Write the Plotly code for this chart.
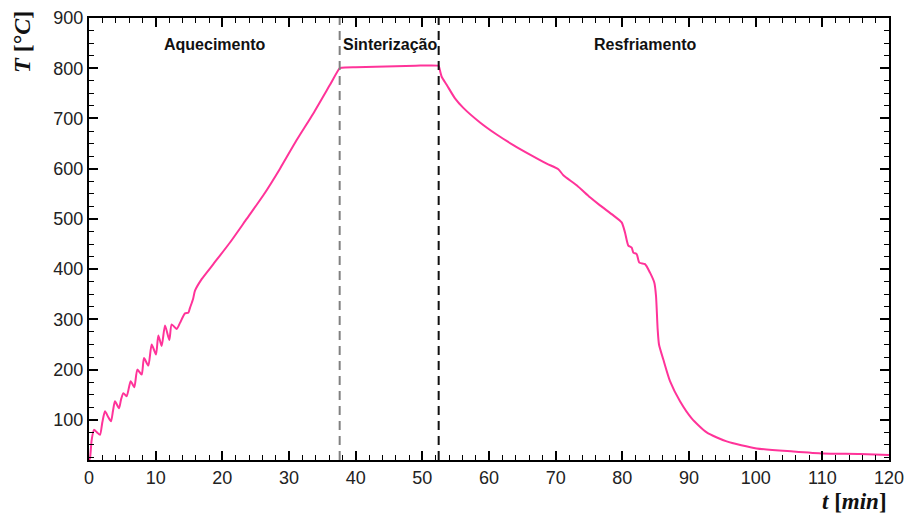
import plotly.graph_objects as go

# ---- data ----
time_min = [0, 0.15, 0.4, 0.75, 1.2, 1.65, 2.0, 2.4, 2.9, 3.3, 3.6, 3.9, 4.5, 4.8, 5.15, 5.65,
            6.25, 6.8, 7.25, 7.9, 8.25, 8.9, 9.4, 10.05, 10.4, 10.9, 11.4, 12.05, 12.4, 13.15,
            13.65, 14.4, 14.9, 15.15, 15.6, 15.9, 16.9, 18.65, 21.15, 23.65, 26.15, 28.65,
            31.15, 33.65, 36.15, 37.6,
            37.9, 40, 43, 46, 49, 52.4,
            52.5, 52.9, 53.65, 54.9, 56.15, 58.65, 61.15, 63.65, 66.15, 68.65, 70.4, 71.15,
            73.15, 75.15, 76.65, 78.65, 79.9, 80.4, 80.9, 81.4, 81.65, 82.15, 82.55, 83.4,
            84.15, 84.8, 85.05, 85.3, 85.5, 86.15, 87.15, 88.65, 90.4, 92.65, 95.65, 100.15,
            105.65, 110.15, 115.65, 120]
temp_c = [20, 24, 60, 80, 75, 70, 95, 117, 105, 97, 118, 137, 123, 140, 153, 147,
          177, 165, 200, 190, 223, 208, 250, 230, 268, 247, 288, 259, 290, 281,
          293, 312, 313, 323, 340, 357, 380, 410, 453, 500, 547, 600,
          657, 710, 767, 800,
          801, 802, 803, 804, 805, 805,
          803, 783, 767, 740, 721, 692, 668, 647, 628, 610, 599, 587,
          567, 543, 527, 507, 493, 473, 447, 443, 433, 430, 413, 410,
          393, 373, 347, 280, 250, 220, 177, 137, 103, 75, 57, 43,
          37, 33, 32, 30]

phase_bounds = [37.6, 52.45]
phase_labels = ["Aquecimento", "Sinterização", "Resfriamento"]
phase_label_t = [18.9, 45.1, 83.4]
x_ticks = list(range(0, 121, 10))
y_ticks = list(range(100, 901, 100))

fig = go.Figure()
fig.add_trace(go.Scatter(x=time_min, y=temp_c, mode="lines", line_shape="spline",
                         line=dict(color="#ff3399", width=2, smoothing=0.6), showlegend=False))

dash_colors = ["#808080", "#111111"]
for xb, c in zip(phase_bounds, dash_colors):
    fig.add_shape(type="line", x0=xb, x1=xb, y0=20, y1=900, xref="x", yref="y",
                  line=dict(color=c, width=2, dash="9px,6px"))

for lab, tx in zip(phase_labels, phase_label_t):
    fig.add_annotation(x=tx, y=848, text=f"<b>{lab}</b>", showarrow=False,
                       font=dict(family="Liberation Sans, Arial", size=16, color="#111"),
                       xanchor="center", yanchor="middle")

axis_common = dict(showline=True, linecolor="black", linewidth=2, mirror="allticks",
                   ticks="inside", ticklen=9, tickwidth=2, tickcolor="black",
                   showgrid=False, zeroline=False, automargin=False,
                   tickfont=dict(family="Liberation Sans, Arial", size=18, color="#222"))

fig.update_xaxes(range=[0, 120], tickvals=x_ticks,
                 minor=dict(dtick=2, ticks="inside", ticklen=5, tickwidth=1, tickcolor="black"),
                 **axis_common)
fig.update_yaxes(range=[20, 900], tickvals=y_ticks,
                 minor=dict(dtick=25, tick0=0, ticks="inside", ticklen=5, tickwidth=1, tickcolor="black"),
                 **axis_common)

# axis titles
fig.add_annotation(xref="paper", yref="paper", x=1.0, y=-0.062, xanchor="right", yanchor="top",
                   text="<b><i>t</i> [<i>min</i>]</b>", showarrow=False,
                   font=dict(family="Liberation Serif, Times New Roman", size=23, color="#111"))
fig.add_annotation(xref="paper", yref="paper", x=-0.084, y=1.02, xanchor="center", yanchor="top",
                   text="<b><i>T</i> [°<i>C</i>]</b>", showarrow=False, textangle=-90,
                   font=dict(family="Liberation Serif, Times New Roman", size=24, color="#111"))

fig.update_layout(width=910, height=515, margin=dict(l=89, r=21, t=18, b=55, autoexpand=False),
                  plot_bgcolor="white", paper_bgcolor="white")

fig.write_html("out.html", config={"displayModeBar": False},
               post_script="document.body.style.margin='0';document.body.style.overflow='hidden';")
